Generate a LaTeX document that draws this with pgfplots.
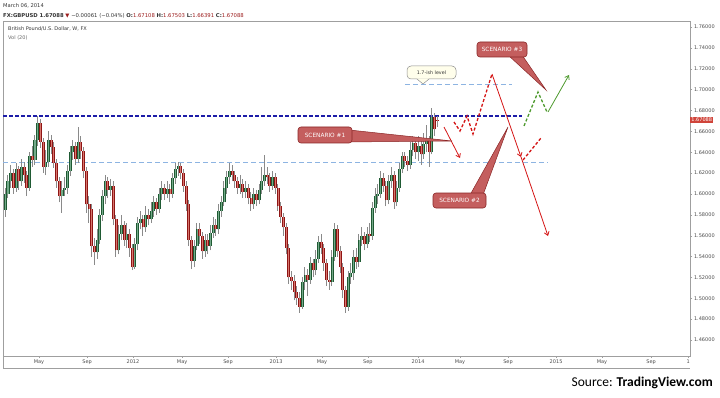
\documentclass[border=0pt]{standalone}
\usepackage{pgfplots}
\pgfplotsset{compat=1.18}
\usepackage{pgfplotstable}
\usepackage{fontspec}
\setmainfont{DejaVu Sans}
\newfontfamily\carlito{Carlito}
\usetikzlibrary{arrows.meta}
\definecolor{upfill}{HTML}{74AA8A}
\definecolor{upedge}{HTML}{1F5A33}
\definecolor{dnfill}{HTML}{D7776E}
\definecolor{dnedge}{HTML}{8E1515}
\definecolor{wick}{HTML}{8A8A8A}
\definecolor{sred}{HTML}{D41414}
\definecolor{sgreen}{HTML}{4E9A2E}
\definecolor{dblue}{HTML}{1C1CA8}
\definecolor{lblue}{HTML}{8DB4E2}
\definecolor{boxfill}{HTML}{C45E5E}
\definecolor{boxedge}{HTML}{8A2626}
\definecolor{pricered}{HTML}{D0443A}
\definecolor{valred}{HTML}{9B1C1C}
\definecolor{txt}{HTML}{333333}

\pgfplotstableread{
x o h l c
0 1.585 1.606 1.578 1.600
1 1.600 1.618 1.596 1.612
2 1.612 1.628 1.606 1.620
3 1.620 1.624 1.600 1.606
4 1.606 1.630 1.602 1.624
5 1.624 1.627 1.604 1.612
6 1.612 1.634 1.608 1.626
7 1.626 1.631 1.611 1.618
8 1.618 1.622 1.598 1.606
9 1.606 1.640 1.603 1.636
10 1.636 1.646 1.626 1.633
11 1.633 1.657 1.628 1.652
12 1.652 1.675 1.646 1.668
13 1.668 1.672 1.644 1.650
14 1.650 1.654 1.620 1.626
15 1.626 1.642 1.618 1.631
16 1.631 1.660 1.626 1.652
17 1.652 1.657 1.638 1.645
18 1.645 1.650 1.625 1.630
19 1.630 1.634 1.606 1.612
20 1.612 1.616 1.592 1.598
21 1.598 1.612 1.582 1.604
22 1.604 1.616 1.598 1.606
23 1.606 1.628 1.600 1.622
24 1.622 1.646 1.617 1.640
25 1.640 1.652 1.633 1.646
26 1.646 1.650 1.628 1.634
27 1.634 1.664 1.630 1.650
28 1.650 1.656 1.634 1.641
29 1.641 1.645 1.615 1.622
30 1.622 1.626 1.582 1.590
31 1.590 1.598 1.572 1.586
32 1.586 1.590 1.540 1.550
33 1.550 1.558 1.532 1.544
34 1.544 1.566 1.538 1.556
35 1.556 1.586 1.552 1.580
36 1.580 1.604 1.574 1.598
37 1.598 1.618 1.590 1.612
38 1.612 1.616 1.596 1.604
39 1.604 1.614 1.598 1.608
40 1.608 1.612 1.570 1.576
41 1.576 1.580 1.540 1.546
42 1.546 1.570 1.542 1.562
43 1.562 1.580 1.556 1.570
44 1.570 1.574 1.550 1.556
45 1.556 1.572 1.548 1.562
46 1.562 1.566 1.540 1.548
47 1.548 1.552 1.527 1.530
48 1.530 1.558 1.528 1.552
49 1.552 1.578 1.546 1.572
50 1.572 1.584 1.566 1.576
51 1.576 1.580 1.560 1.568
52 1.568 1.588 1.564 1.580
53 1.580 1.586 1.570 1.576
54 1.576 1.592 1.572 1.584
55 1.584 1.598 1.578 1.592
56 1.592 1.596 1.580 1.586
57 1.586 1.606 1.582 1.600
58 1.600 1.612 1.594 1.606
59 1.606 1.610 1.594 1.600
60 1.600 1.612 1.596 1.605
61 1.605 1.610 1.592 1.600
62 1.600 1.620 1.596 1.615
63 1.615 1.630 1.610 1.624
64 1.624 1.631 1.617 1.627
65 1.627 1.630 1.614 1.620
66 1.620 1.624 1.602 1.608
67 1.608 1.612 1.584 1.590
68 1.590 1.594 1.550 1.556
69 1.556 1.560 1.528 1.536
70 1.536 1.556 1.530 1.550
71 1.550 1.572 1.546 1.566
72 1.566 1.572 1.552 1.560
73 1.560 1.564 1.538 1.545
74 1.545 1.562 1.540 1.556
75 1.556 1.562 1.542 1.550
76 1.550 1.570 1.546 1.563
77 1.563 1.578 1.558 1.570
78 1.570 1.576 1.560 1.566
79 1.566 1.590 1.562 1.584
80 1.584 1.598 1.578 1.592
81 1.592 1.612 1.588 1.606
82 1.606 1.622 1.600 1.616
83 1.616 1.630 1.610 1.622
84 1.622 1.628 1.612 1.618
85 1.618 1.622 1.606 1.612
86 1.612 1.616 1.600 1.606
87 1.606 1.618 1.600 1.610
88 1.610 1.614 1.596 1.602
89 1.602 1.612 1.596 1.606
90 1.606 1.610 1.590 1.596
91 1.596 1.602 1.584 1.590
92 1.590 1.606 1.586 1.600
93 1.600 1.604 1.588 1.594
94 1.594 1.610 1.590 1.604
95 1.604 1.626 1.600 1.612
96 1.612 1.637 1.608 1.618
97 1.618 1.626 1.610 1.616
98 1.616 1.620 1.602 1.608
99 1.608 1.622 1.604 1.616
100 1.616 1.620 1.600 1.606
101 1.606 1.610 1.584 1.588
102 1.588 1.592 1.572 1.578
103 1.578 1.582 1.560 1.568
104 1.568 1.572 1.542 1.548
105 1.548 1.552 1.514 1.520
106 1.520 1.526 1.508 1.517
107 1.517 1.522 1.498 1.506
108 1.506 1.512 1.494 1.500
109 1.500 1.506 1.486 1.492
110 1.492 1.520 1.490 1.516
111 1.516 1.530 1.508 1.522
112 1.522 1.528 1.502 1.518
113 1.518 1.540 1.514 1.534
114 1.534 1.538 1.520 1.527
115 1.527 1.546 1.522 1.538
116 1.538 1.560 1.534 1.554
117 1.554 1.562 1.542 1.548
118 1.548 1.552 1.526 1.534
119 1.534 1.538 1.512 1.518
120 1.518 1.526 1.508 1.516
121 1.516 1.546 1.512 1.540
122 1.540 1.572 1.536 1.566
123 1.566 1.570 1.540 1.545
124 1.545 1.550 1.524 1.530
125 1.530 1.534 1.500 1.508
126 1.508 1.512 1.486 1.492
127 1.492 1.526 1.488 1.520
128 1.520 1.534 1.514 1.524
129 1.524 1.546 1.518 1.540
130 1.540 1.548 1.528 1.535
131 1.535 1.562 1.530 1.556
132 1.556 1.568 1.550 1.560
133 1.560 1.564 1.546 1.552
134 1.552 1.568 1.548 1.562
135 1.562 1.572 1.554 1.560
136 1.560 1.592 1.556 1.587
137 1.587 1.606 1.582 1.598
138 1.598 1.610 1.590 1.600
139 1.600 1.622 1.596 1.615
140 1.615 1.620 1.602 1.608
141 1.608 1.612 1.588 1.594
142 1.594 1.618 1.590 1.612
143 1.612 1.626 1.606 1.618
144 1.618 1.622 1.586 1.592
145 1.592 1.612 1.588 1.606
146 1.606 1.630 1.602 1.624
147 1.624 1.640 1.620 1.636
148 1.636 1.640 1.626 1.632
149 1.632 1.636 1.622 1.628
150 1.628 1.650 1.624 1.642
151 1.642 1.656 1.636 1.649
152 1.649 1.654 1.634 1.640
153 1.640 1.656 1.632 1.646
154 1.646 1.652 1.628 1.638
155 1.638 1.658 1.634 1.648
156 1.648 1.666 1.640 1.652
157 1.652 1.656 1.626 1.640
158 1.640 1.682 1.638 1.674
159 1.674 1.678 1.656 1.662
160 1.6711 1.6750 1.6639 1.6709
}\candles

\pgfplotsset{candle/.style={draw=none, mark=none, forget plot,
  error bars/y dir=plus, error bars/y explicit, error bars/error mark=none}}

\begin{document}
\begin{tikzpicture}
\useasboundingbox (0,0) rectangle (720pt,397pt);
\begin{axis}[
  at={(3pt,41pt)}, anchor=south west,
  scale only axis, width=687pt, height=335pt,
  xmin=-0.74, xmax=253.7, ymin=1.4447, ymax=1.7658,
  clip=false,
  axis line style={draw=gray!75, line width=0.6pt},
  xtick={12.6,30.4,47.4,65.6,82.6,100.4,117.4,134.4,153.0,168.5,186.3,204.1,221.1,239.3,253},
  xticklabels={May,Sep,2012,May,Sep,2013,May,Sep,2014,May,Sep,2015,May,Sep,1},
  ytick={1.46,1.48,1.50,1.52,1.54,1.56,1.58,1.60,1.62,1.64,1.66,1.68,1.70,1.72,1.74,1.76},
  yticklabels={1.46000,1.48000,1.50000,1.52000,1.54000,1.56000,1.58000,1.60000,1.62000,1.64000,1.66000,1.68000,1.70000,1.72000,1.74000,1.76000},
  xtick pos=bottom, ytick pos=right, yticklabel pos=right,
  tick align=outside, major tick length=2pt,
  tick style={draw=gray!75, line width=0.4pt},
  tick label style={font=\fontsize{5}{6}\selectfont, text=black!70},
  xticklabel style={yshift=1.5pt},
  yticklabel style={xshift=-1.5pt},
]
% reference levels
\addplot[dblue, line width=1.2pt, dash pattern=on 4pt off 2pt, forget plot] coordinates {(-0.74,1.6747) (191.5,1.6747)};
\addplot[lblue, line width=0.9pt, dash pattern=on 5pt off 3pt, forget plot] coordinates {(-0.74,1.6303) (201.1,1.6303)};
\addplot[lblue, line width=0.9pt, dash pattern=on 5pt off 3pt, forget plot] coordinates {(148.1,1.7053) (187.8,1.7053)};
% wicks
\addplot[candle, error bars/error bar style={line width=0.45pt, draw=wick}]
  table[x=x, y=l, y error plus expr=\thisrow{h}-\thisrow{l}] {\candles};
% up bodies
\addplot[candle, restrict expr to domain={\thisrow{c}-\thisrow{o}}{0:1},
  error bars/error bar style={line width=2.4pt, draw=upfill}]
  table[x=x, y=o, y error plus expr=\thisrow{c}-\thisrow{o}] {\candles};
\addplot[candle, restrict expr to domain={\thisrow{c}-\thisrow{o}}{0:1},
  error bars/error bar style={line width=0.9pt, draw=upedge, xshift=-0.75pt}]
  table[x=x, y=o, y error plus expr=\thisrow{c}-\thisrow{o}] {\candles};
\addplot[candle, restrict expr to domain={\thisrow{c}-\thisrow{o}}{0:1},
  error bars/error bar style={line width=0.35pt, draw=upedge, xshift=1.05pt}]
  table[x=x, y=o, y error plus expr=\thisrow{c}-\thisrow{o}] {\candles};
% down bodies
\addplot[candle, restrict expr to domain={\thisrow{c}-\thisrow{o}}{-1:0},
  error bars/error bar style={line width=2.4pt, draw=dnfill}]
  table[x=x, y=c, y error plus expr=\thisrow{o}-\thisrow{c}] {\candles};
\addplot[candle, restrict expr to domain={\thisrow{c}-\thisrow{o}}{-1:0},
  error bars/error bar style={line width=0.9pt, draw=dnedge, xshift=-0.75pt}]
  table[x=x, y=c, y error plus expr=\thisrow{o}-\thisrow{c}] {\candles};
\addplot[candle, restrict expr to domain={\thisrow{c}-\thisrow{o}}{-1:0},
  error bars/error bar style={line width=0.35pt, draw=dnedge, xshift=1.05pt}]
  table[x=x, y=c, y error plus expr=\thisrow{o}-\thisrow{c}] {\candles};
% last price label
\node[fill=pricered, text=white, font=\fontsize{5}{6}\selectfont, inner xsep=1.2pt, inner ysep=1pt, anchor=west] at (axis cs:253.7,1.67088) {1.67088};
\end{axis}

\begin{scope}[shift={(0pt,397pt)}, x=1pt, y=-1pt]
% frame below x labels
\draw[gray!75, line width=0.6pt] (3,356) -- (3,368) -- (690,368);
% header
\node[anchor=west, font=\fontsize{5.2}{6}\selectfont, text=txt, inner sep=0pt] at (3,6) {March 06, 2014};
\node[anchor=west, font=\fontsize{5.3}{6}\selectfont, text=txt, inner sep=0pt] at (3,15.5)
  {\textbf{FX:GBPUSD 1.67088} {\color{valred}▼} −0.00061 (−0.04\%) \textbf{O:}{\color{valred}1.67108} \textbf{H:}{\color{valred}1.67503} \textbf{L:}{\color{valred}1.66391} \textbf{C:}{\color{valred}1.67088}};
\node[anchor=west, font=\fontsize{5}{6}\selectfont, text=txt, inner sep=0pt] at (8,29) {British Pound/U.S. Dollar, W, FX};
\node[anchor=west, font=\fontsize{5}{6}\selectfont, text=black!60, inner sep=0pt] at (8,38) {Vol (20)};
% source
\node[anchor=east, font=\fontsize{13.5}{15}\carlito, text=black, inner sep=0pt] at (713,383) {Source: \textbf{TradingView.com}};
% scenario drawings
\draw[sred, line width=0.8pt, -{Straight Barb[length=3.5pt,width=5pt]}] (444,127) -- (460,158);
\draw[sred, line width=1.3pt, dash pattern=on 3pt off 2pt] (454,122) -- (460,131) -- (467,116) -- (473,134) -- (492,74);
\draw[sred, line width=0.8pt, -{Straight Barb[length=3.5pt,width=5pt]}] (492,74) -- (521,157);
\draw[sred, line width=0.8pt, -{Straight Barb[length=3.5pt,width=5pt]}] (521,157) -- (548,236);
\draw[sred, line width=1.3pt, dash pattern=on 3pt off 2pt] (523,160) -- (541,138);
\draw[sgreen, line width=1.3pt, dash pattern=on 3pt off 2pt] (524,126) -- (538,92) -- (547,112);
\draw[sgreen, line width=0.8pt, -{Straight Barb[length=3.5pt,width=5pt]}] (548,112) -- (569,75);
% 1.7-ish callout
\filldraw[fill=yellow!8, draw=black!45, line width=0.5pt, rounded corners=4pt] (407,66) rectangle (456,79);
\fill[fill=yellow!8] (417,78.4) -- (423,84) -- (429,78.4) -- cycle;
\draw[black!45, line width=0.5pt] (417,79) -- (423,84) -- (429,79);
\node[font=\fontsize{4.8}{6}\selectfont, text=txt, inner sep=0pt] at (431.5,72.5) {1.7-ish level};
% scenario #1
\filldraw[fill=boxfill, draw=boxedge, line width=0.5pt] (340,129) -- (452,141) -- (345,142) -- cycle;
\filldraw[fill=boxfill, draw=boxedge, line width=0.6pt, rounded corners=3pt] (298,127) rectangle (352,143);
\node[font=\fontsize{5.8}{6}\selectfont, text=white, inner sep=0pt] at (325,135) {SCENARIO \#1};
% scenario #2
\filldraw[fill=boxfill, draw=boxedge, line width=0.5pt] (470,195) -- (508,127) -- (483,195) -- cycle;
\filldraw[fill=boxfill, draw=boxedge, line width=0.6pt, rounded corners=3pt] (433,193) rectangle (486,208);
\node[font=\fontsize{5.8}{6}\selectfont, text=white, inner sep=0pt] at (459.5,200.5) {SCENARIO \#2};
% scenario #3
\filldraw[fill=boxfill, draw=boxedge, line width=0.5pt] (508,55) -- (546,90) -- (522,55) -- cycle;
\filldraw[fill=boxfill, draw=boxedge, line width=0.6pt, rounded corners=3pt] (477,42) rectangle (527,57);
\node[font=\fontsize{5.8}{6}\selectfont, text=white, inner sep=0pt] at (502,49.5) {SCENARIO \#3};
\end{scope}
\end{tikzpicture}
\end{document}
